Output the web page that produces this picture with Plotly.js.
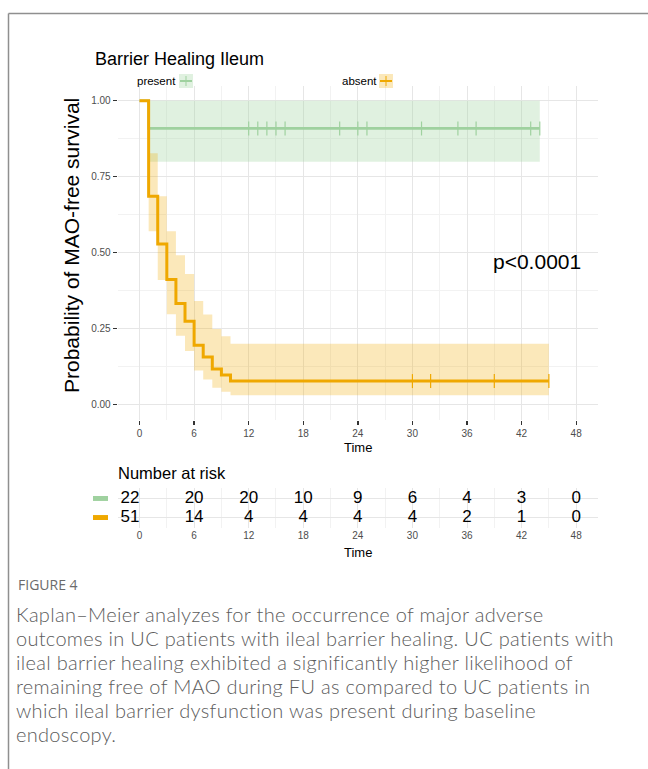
<!DOCTYPE html>
<html>
<head>
<meta charset="utf-8">
<script src="https://cdn.plot.ly/plotly-3.0.1.min.js"></script>
<style>
html,body{margin:0;padding:0;background:#fff;overflow:hidden;}
#chart{width:648px;height:769px;position:absolute;left:0;top:0;}
#caption{position:absolute;left:16px;top:602px;font-family:Lato,"Open Sans",sans-serif;font-weight:300;font-size:20px;letter-spacing:0.3px;line-height:24px;color:#5c5c5c;white-space:nowrap;}
</style>
</head>
<body>
<div id="chart"></div>
<div id="caption"></div>
<script>
// ---------------- data ----------------
const timeTicks = [0, 6, 12, 18, 24, 30, 36, 42, 48];
const minorTimeTicks = [3, 9, 15, 21, 27, 33, 39, 45];
const survTicks = [0, 0.25, 0.5, 0.75, 1];
const survTickText = ["0.00", "0.25", "0.50", "0.75", "1.00"];
const minorSurvTicks = [0.125, 0.375, 0.625, 0.875];
const groupNames = ["present", "absent"];
const riskPresent = [22, 20, 20, 10, 9, 6, 4, 3, 0];
const riskAbsent = [51, 14, 4, 4, 4, 4, 2, 1, 0];

const presentTimes = [0, 1, 44];
const presentSurv = [1.0, 0.909, 0.909];
const presentUpper = [1.0, 1.0, 1.0];
const presentLower = [1.0, 0.799, 0.799];
const presentCensor = [12, 13, 14, 15, 16, 22, 24, 25, 31, 35, 37, 43, 44];

const absentTimes = [0, 1, 2, 3, 4, 5, 6, 7, 8, 9, 10, 45];
const absentSurv = [1.0, 0.686, 0.529, 0.412, 0.333, 0.275, 0.196, 0.157, 0.118, 0.098, 0.078, 0.078];
const absentUpper = [1.0, 0.827, 0.686, 0.571, 0.492, 0.430, 0.341, 0.297, 0.249, 0.225, 0.201, 0.201];
const absentLower = [1.0, 0.571, 0.410, 0.298, 0.227, 0.177, 0.113, 0.083, 0.056, 0.043, 0.031, 0.031];
const absentCensor = [30, 32, 39, 45];

const pValueText = "p<0.0001";
const captionHead = "FIGURE 4";
const captionLines = [
  "Kaplan\u2013Meier analyzes for the occurrence of major adverse",
  "outcomes in UC patients with ileal barrier healing. UC patients with",
  "ileal barrier healing exhibited a significantly higher likelihood of",
  "remaining free of MAO during FU as compared to UC patients in",
  "which ileal barrier dysfunction was present during baseline",
  "endoscopy."
];

// ---------------- styles ----------------
const W = 648, H = 769;
const px = v => v / W;
const py = v => 1 - v / H;
const greenLine = "#9FD19F", greenFill = "rgba(160,210,160,0.32)";
const orangeLine = "#EFA800", orangeFill = "rgba(240,170,0,0.27)";
const FONT = "Liberation Sans, Arial, Helvetica, sans-serif";
const CAPFONT = "Open Sans, sans-serif";

function stepValue(times, surv, t) {
  let v = surv[0];
  for (let i = 0; i < times.length; i++) if (times[i] <= t) v = surv[i];
  return v;
}

const traces = [];
function addBand(times, upper, lower, fc) {
  traces.push({x: times, y: upper, type: "scatter", mode: "lines", line: {shape: "hv", width: 0, color: fc},
               xaxis: "x", yaxis: "y", showlegend: false, hoverinfo: "skip"});
  traces.push({x: times, y: lower, type: "scatter", mode: "lines", line: {shape: "hv", width: 0, color: fc},
               fill: "tonexty", fillcolor: fc, xaxis: "x", yaxis: "y", showlegend: false, hoverinfo: "skip"});
}
addBand(presentTimes, presentUpper, presentLower, greenFill);
addBand(absentTimes, absentUpper, absentLower, orangeFill);

traces.push({x: presentTimes, y: presentSurv, type: "scatter", mode: "lines", line: {shape: "hv", width: 2.6, color: greenLine},
             xaxis: "x", yaxis: "y", showlegend: false});
traces.push({x: absentTimes, y: absentSurv, type: "scatter", mode: "lines", line: {shape: "hv", width: 3, color: orangeLine},
             xaxis: "x", yaxis: "y", showlegend: false});
traces.push({x: presentCensor, y: presentCensor.map(t => stepValue(presentTimes, presentSurv, t)), type: "scatter", mode: "markers",
             marker: {symbol: "line-ns", size: 10, line: {width: 1.2, color: greenLine}}, xaxis: "x", yaxis: "y", showlegend: false});
traces.push({x: absentCensor, y: absentCensor.map(t => stepValue(absentTimes, absentSurv, t)), type: "scatter", mode: "markers",
             marker: {symbol: "line-ns", size: 10, line: {width: 1.2, color: orangeLine}}, xaxis: "x", yaxis: "y", showlegend: false});

function riskRow(values, row) {
  traces.push({x: timeTicks, y: timeTicks.map(() => row), text: values.map(String), type: "scatter", mode: "text",
               textposition: timeTicks.map((t, i) => i === 0 ? "middle left" : "middle center"),
               textfont: {family: FONT, size: 17, color: "#000"}, xaxis: "x2", yaxis: "y2", showlegend: false, cliponaxis: false});
}
riskRow(riskPresent, 2);
riskRow(riskAbsent, 1);

const xDomain = [px(117.7), px(598)];
const gridMajor = "#E6E6E6", gridMinor = "#F2F2F2";

const annotations = [
  {text: "Barrier Healing Ileum", x: px(93), y: py(59), xref: "paper", yref: "paper", xanchor: "left", yanchor: "middle",
   showarrow: false, font: {family: FONT, size: 18, color: "#000"}},
  {text: groupNames[0], x: px(177.5), y: py(81), xref: "paper", yref: "paper", xanchor: "right", yanchor: "middle",
   showarrow: false, font: {family: FONT, size: 11.5, color: "#000"}},
  {text: groupNames[1], x: px(378.5), y: py(81), xref: "paper", yref: "paper", xanchor: "right", yanchor: "middle",
   showarrow: false, font: {family: FONT, size: 11.5, color: "#000"}},
  {text: "Probability of MAO-free survival", x: px(71), y: py(246), xref: "paper", yref: "paper", xanchor: "center", yanchor: "middle",
   textangle: -90, showarrow: false, font: {family: FONT, size: 21, color: "#000"}},
  {text: "Time", x: 24, y: py(447.5), xref: "x", yref: "paper", xanchor: "center", yanchor: "middle",
   showarrow: false, font: {family: FONT, size: 13, color: "#000"}},
  {text: pValueText, x: px(491), y: py(261), xref: "paper", yref: "paper", xanchor: "left", yanchor: "middle",
   showarrow: false, font: {family: FONT, size: 21, color: "#000"}},
  {text: "Number at risk", x: px(116), y: py(473), xref: "paper", yref: "paper", xanchor: "left", yanchor: "middle",
   showarrow: false, font: {family: FONT, size: 16.5, color: "#000"}},
  {text: "Time", x: 24, y: py(552), xref: "x2", yref: "paper", xanchor: "center", yanchor: "middle",
   showarrow: false, font: {family: FONT, size: 13, color: "#000"}},
  {text: captionHead, x: px(16), y: py(584), xref: "paper", yref: "paper", xanchor: "left", yanchor: "middle",
   showarrow: false, font: {family: CAPFONT, size: 14, color: "#6b6b6b"}}
];
document.getElementById("caption").innerHTML = captionLines.join("<br>");

function legendKey(x0, lc, fc) {
  return [
    {type: "rect", xref: "paper", yref: "paper", x0: px(x0), x1: px(x0 + 14), y0: py(88), y1: py(74), fillcolor: fc, line: {width: 0}},
    {type: "line", xref: "paper", yref: "paper", x0: px(x0 + 1), x1: px(x0 + 13), y0: py(81), y1: py(81), line: {color: lc, width: 2}},
    {type: "line", xref: "paper", yref: "paper", x0: px(x0 + 7), x1: px(x0 + 7), y0: py(76), y1: py(86), line: {color: lc, width: 1}}
  ];
}
const shapes = [
  {type: "line", xref: "paper", yref: "paper", x0: px(8.5), x1: 1.01, y0: py(13.5), y1: py(13.5), line: {color: "#8f8f8f", width: 1.5}},
  {type: "line", xref: "paper", yref: "paper", x0: px(8.5), x1: px(8.5), y0: py(13.5), y1: -0.01, line: {color: "#8f8f8f", width: 1.5}},
  ...legendKey(179, greenLine, greenFill),
  ...legendKey(379, orangeLine, orangeFill),
  {type: "rect", xref: "paper", yref: "y2", x0: px(93), x1: px(108), y0: 1.87, y1: 2.13, fillcolor: greenLine, line: {width: 0}},
  {type: "rect", xref: "paper", yref: "y2", x0: px(93), x1: px(108), y0: 0.87, y1: 1.13, fillcolor: orangeLine, line: {width: 0}}
];

const minorX = {tickmode: "array", tickvals: minorTimeTicks, showgrid: true, gridcolor: gridMinor, gridwidth: 1, ticks: ""};
const layout = {
  width: W, height: H,
  margin: {l: 0, r: 0, t: 0, b: 0},
  paper_bgcolor: "rgba(0,0,0,0)", plot_bgcolor: "rgba(0,0,0,0)",
  showlegend: false, hovermode: false,
  font: {family: FONT},
  xaxis: {domain: xDomain, range: [-2.4, 50.4], tickmode: "array", tickvals: timeTicks, ticktext: timeTicks.map(String),
          ticks: "outside", ticklen: 3.5, tickwidth: 1.3, tickcolor: "#333", showline: false, zeroline: false,
          showgrid: true, gridcolor: gridMajor, gridwidth: 1, showspikes: false,
          minor: minorX,
          tickfont: {family: FONT, size: 10, color: "#4d4d4d"}, anchor: "y", fixedrange: true},
  yaxis: {domain: [py(420), py(85.5)], range: [-0.05, 1.05], tickmode: "array", tickvals: survTicks, ticktext: survTickText,
          ticks: "outside", ticklen: 4, tickwidth: 1.3, tickcolor: "#333", showline: false, zeroline: false,
          showgrid: true, gridcolor: gridMajor, gridwidth: 1, showspikes: false,
          minor: {tickmode: "array", tickvals: minorSurvTicks, showgrid: true, gridcolor: gridMinor, gridwidth: 1, ticks: ""},
          tickfont: {family: FONT, size: 10, color: "#4d4d4d"}, anchor: "x", fixedrange: true},
  xaxis2: {domain: xDomain, range: [-2.4, 50.4], tickmode: "array", tickvals: timeTicks, ticktext: timeTicks.map(String),
           ticks: "", showline: false, zeroline: false, showgrid: true, gridcolor: gridMajor, gridwidth: 1,
           minor: minorX,
           tickfont: {family: FONT, size: 10, color: "#4d4d4d"}, anchor: "y2", fixedrange: true},
  yaxis2: {domain: [py(528), py(488)], range: [0.45, 2.55], tickmode: "array", tickvals: [1, 2], showticklabels: false,
           ticks: "", showline: false, zeroline: false, showgrid: true, gridcolor: gridMajor, gridwidth: 1,
           anchor: "x2", fixedrange: true},
  annotations: annotations,
  shapes: shapes
};

Plotly.newPlot("chart", traces, layout, {staticPlot: true, displayModeBar: false});
</script>
</body>
</html>
